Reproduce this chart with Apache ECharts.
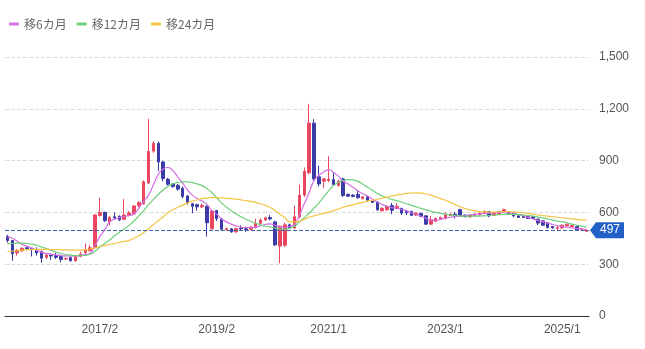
<!DOCTYPE html>
<html><head><meta charset="utf-8">
<script src="https://cdn.jsdelivr.net/npm/echarts@6/dist/echarts.min.js"></script>
<style>html,body{margin:0;padding:0;background:#fff}#c{width:645px;height:349px}</style>
</head><body><div id="c"></div>
<script>
// months 2015/7 .. 2025/6
const categories = [];
for (let k = 0; k < 120; k++) { const m = 6 + k; categories.push((2015 + Math.floor(m / 12)) + '/' + (m % 12 + 1)); }
const tickLabels = ['2017/2', '2019/2', '2021/1', '2023/1', '2025/1'];
const lastPrice = 497;

const opens = [460,437,365,378,395,392,385,373,340,352, 350,345,330,338,320,345,368,378,398,582,
  600,545,575,578,560,582,592,638,650,770, 955,1000,892,792,765,757,740,695,650,645,
  632,636,506,610,563,500,505,488,510,505, 502,512,537,556,570,545,405,410,528,510,
  575,700,829,1117,806,781,785,790,756,794, 704,700,704,680,690,668,660,610,615,640,
  623,623,605,605,585,594,580,532,548,562, 565,582,590,616,584,574,580,586,595,604,
  584,590,600,604,596,580,580,575,575,561, 551,541,518,508,510,522,518,518,499,490];
const closes = [437,360,380,392,390,385,365,335,353,348, 340,328,333,320,343,358,383,395,585,600,
  552,570,568,557,585,597,637,657,777,952, 1000,892,796,763,750,735,692,655,635,632,
  640,540,608,563,502,506,487,506,505,500, 515,537,556,569,562,412,520,528,512,575,
  700,838,1117,794,765,794,792,761,781,698, 694,692,685,690,671,658,615,623,633,612,
  635,596,598,583,596,577,532,557,565,571, 590,590,582,580,575,582,590,596,604,580,
  600,604,616,590,580,571,571,565,565,538, 526,512,510,512,526,532,526,499,506,497];
const lows = [425,320,350,370,385,345,350,308,330,325, 330,310,325,315,315,340,360,375,390,575,
  545,525,560,550,555,576,585,630,645,765, 945,840,780,755,742,725,680,645,595,610,
  625,460,500,550,495,494,483,480,492,487, 498,508,530,550,555,405,305,400,505,505,
  565,690,820,780,750,742,775,755,750,690, 690,688,680,675,665,655,610,605,610,590,
  618,585,585,578,580,572,528,528,545,558, 560,578,565,575,572,570,578,582,590,572,
  580,586,596,586,571,568,568,562,562,526, 522,508,506,497,506,518,515,495,496,487];
const highs = [470,440,388,398,400,395,398,380,360,358, 365,350,340,345,350,372,420,410,590,685,
  605,580,600,582,677,608,642,665,785,1142, 1010,1010,898,800,770,765,750,700,655,650,
  650,640,612,615,568,512,510,512,525,517, 520,563,565,575,585,552,525,540,535,640,
  760,860,1229,1140,871,800,925,833,790,800, 710,706,730,695,695,672,665,630,640,655,
  655,628,610,610,600,598,582,580,570,575, 600,594,602,620,588,585,593,600,612,606,
  603,606,622,608,598,583,582,578,577,563, 553,543,520,520,530,535,528,520,508,502];

const ma6 = [458,450,433,415,405,392,380,370,362,358, 354,350,348,347,348,350,355,362,410,460,
  500,545,560,570,575,582,592,625,665,700, 760,820,852,860,842,805,770,730,700,680,
  665,645,612,590,562,545,532,522,514,512, 512,515,522,530,534,525,518,514,520,530,
  585,650,715,785,815,835,848,832,810,780, 765,745,725,708,695,676,660,645,636,627,
  625,617,610,598,588,578,565,555,553,560, 566,572,577,580,583,586,589,591,593,595,
  597,599,600,598,594,588,580,571,562,553, 545,538,530,524,519,514,510,507,504,502];
const ma12 = [418,420,422,422,420,416,410,400,390,380, 370,362,356,352,350,350,352,358,375,400,
  420,440,465,485,505,525,550,580,610,645, 675,705,730,750,765,773,777,777,772,765,
  755,738,715,685,655,630,610,592,575,560, 548,537,528,520,515,510,505,503,508,520,
  545,570,595,625,655,690,725,755,775,785, 790,788,780,765,745,728,710,695,685,675,
  668,660,650,641,632,623,615,607,600,595, 590,586,582,580,578,578,578,579,580,582,
  585,587,588,588,588,587,585,582,578,573, 568,562,555,550,545,540,532,526,520,515];
const ma24 = [372,375,378,381,383,385,386,386,386,385, 385,384,383,382,381,381,383,388,395,402,
  408,414,420,426,432,438,450,465,483,504, 530,552,575,600,615,630,642,655,665,672,
  680,683,685,685,684,682,680,677,673,668, 664,658,650,640,628,610,590,570,545,545,
  548,560,572,580,588,594,602,610,620,630, 638,645,652,658,665,670,676,682,688,695,
  700,705,710,712,713,712,708,700,690,680, 670,658,645,633,623,615,610,605,603,602,
  602,603,604,604,603,601,598,594,590,586, 582,578,575,572,569,566,563,560,557,555];

const candles = opens.map((o, i) => [o, closes[i], lows[i], highs[i]]);
const UP = '#e8475f', DOWN = '#3b3ba8';
const sans = "'Liberation Sans', Arial, sans-serif";

const chart = echarts.init(document.getElementById('c'), null, { renderer: 'canvas' });
chart.setOption({
  animation: false,
  textStyle: { fontFamily: sans },
  legend: {
    data: ['移6カ月', '移12カ月', '移24カ月'],
    left: 4, top: 13, icon: 'roundRect', itemWidth: 10, itemHeight: 3, itemGap: 10,
    textStyle: { color: '#666', fontSize: 12, fontFamily: "'Noto Sans CJK JP', sans-serif" }
  },
  grid: { left: 5, right: 56, top: 57, bottom: 33 },
  xAxis: {
    type: 'category', data: categories, boundaryGap: true,
    axisLine: { lineStyle: { color: '#333' } },
    axisTick: { show: false },
    axisLabel: { interval: (i, v) => tickLabels.includes(v), color: '#555', fontSize: 12, margin: 8 },
    splitLine: { show: false }
  },
  yAxis: {
    type: 'value', position: 'right', min: 0, max: 1500, interval: 300,
    axisLine: { show: false }, axisTick: { show: false },
    axisLabel: { color: '#555', fontSize: 12, margin: 10, formatter: v => v.toLocaleString('en-US') },
    splitLine: { lineStyle: { type: 'dashed', color: '#dcdcdc' } }
  },
  series: [
    {
      name: '株価', type: 'candlestick', data: candles, barWidth: '62%',
      itemStyle: { color: UP, color0: DOWN, borderColor: UP, borderColor0: DOWN, borderWidth: 1 },
      markLine: {
        silent: true, symbol: 'none', label: { show: false },
        lineStyle: { color: '#3d64ad', type: 'dashed', width: 1 },
        data: [{ yAxis: lastPrice }]
      }
    },
    { name: '移6カ月', type: 'line', data: ma6, smooth: true, showSymbol: false, lineStyle: { width: 1.2, color: '#d36ee3' }, itemStyle: { color: '#d36ee3' } },
    { name: '移12カ月', type: 'line', data: ma12, smooth: true, showSymbol: false, lineStyle: { width: 1.2, color: '#6ccf7b' }, itemStyle: { color: '#6ccf7b' } },
    { name: '移24カ月', type: 'line', data: ma24, smooth: true, showSymbol: false, lineStyle: { width: 1.2, color: '#f3c443' }, itemStyle: { color: '#f3c443' } }
  ]
});

// price tag at the right edge of the grid
const rect = chart.getModel().getComponent('grid', 0).coordinateSystem.getRect();
const rx = rect.x + rect.width + 1;
const py = chart.convertToPixel({ yAxisIndex: 0 }, lastPrice);
chart.setOption({
  graphic: [
    { type: 'polygon', z: 100, shape: { points: [[rx, py], [rx + 6, py - 8], [rx + 34, py - 8], [rx + 34, py + 8], [rx + 6, py + 8]] }, style: { fill: '#2160c6' } },
    { type: 'text', z: 101, x: rx + 20, y: py, style: { text: String(lastPrice), fill: '#fff', font: '12px ' + sans, align: 'center', verticalAlign: 'middle' } }
  ]
});
</script></body></html>
